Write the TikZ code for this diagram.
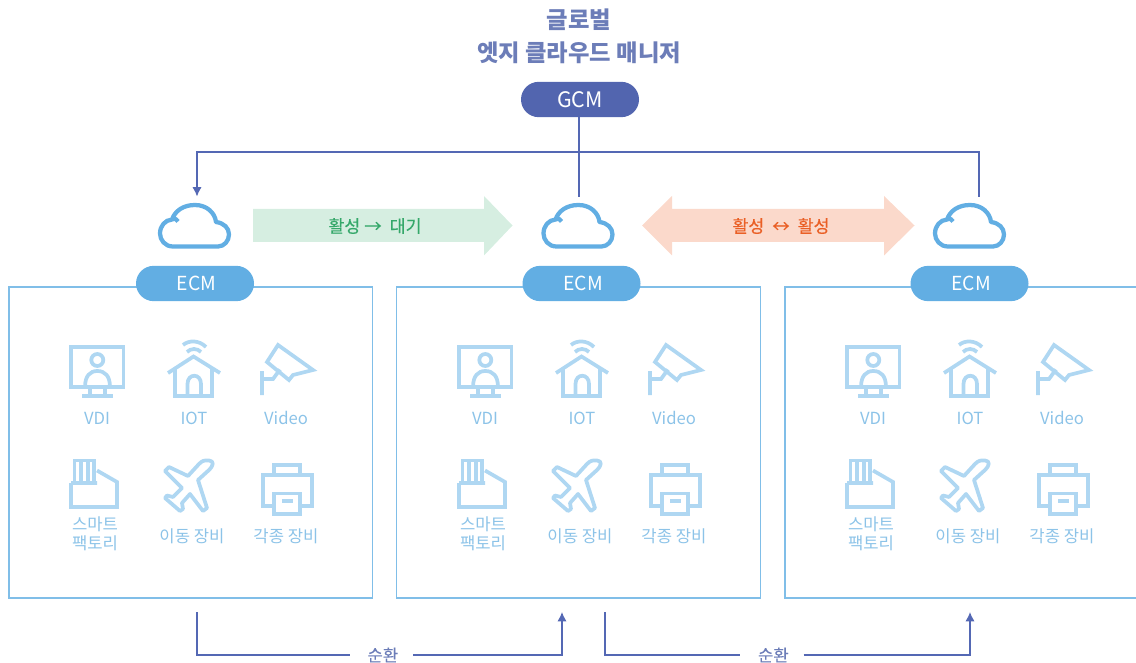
\documentclass[tikz,border=0pt]{standalone}
\usepackage{fontspec}
\setmainfont{Noto Sans CJK KR}
\newfontfamily\medfont[FakeBold=0.35]{Noto Sans CJK KR}
\usetikzlibrary{shapes.misc,arrows.meta}
\definecolor{gcmblue}{HTML}{5265AF}
\definecolor{linkblue}{HTML}{5468B4}
\definecolor{titleblue}{HTML}{6C7DB8}
\definecolor{ecmblue}{HTML}{62AEE3}
\definecolor{panelblue}{HTML}{80BEE8}
\definecolor{iconblue}{HTML}{AFD7F2}
\definecolor{icontext}{HTML}{8CC3E8}
\definecolor{greenfill}{HTML}{D6EEE1}
\definecolor{greentext}{HTML}{35A86A}
\definecolor{orangefill}{HTML}{FBD9CB}
\definecolor{orangetext}{HTML}{EA5F25}
\tikzset{
  pill/.style={rounded rectangle,fill=#1,text=white,minimum width=88.5pt,minimum height=26.5pt,inner sep=0pt},
  panelbox/.style={draw=panelblue,line width=1.25pt,minimum width=272.8pt,minimum height=233.5pt,inner sep=0pt},
  icon/.style={draw=iconblue,line width=2.8pt,line join=miter},
  icontxt/.style={text=icontext,font=\fontsize{12.5}{14}\selectfont,inner sep=0pt,align=center},
  cloudline/.style={draw=ecmblue,line width=3.2pt,line join=round},
  link/.style={draw=linkblue,line width=1.1pt},
  linktip/.style={link,-{Latex[length=7pt,width=7pt]}},
  cycle/.style={text=titleblue,font=\medfont\fontsize{12.5}{14}\selectfont,minimum width=47pt,inner sep=0pt},
  titletxt/.style={text=titleblue,font=\bfseries\fontsize{17.5}{20}\selectfont,inner sep=0pt},
  arrowtxt/.style={font=\medfont\fontsize{13}{14}\selectfont,inner sep=0pt}
}
\newcommand{\cloudshape}[1]{%
  \begin{scope}[shift={(#1,0)}]
  \draw[cloudline] (173,246.5) .. controls (165,246.5) and (160,240) .. (160,233.5)
    .. controls (160,226) and (165,220) .. (172,219.5)
    .. controls (175,218) and (177,219) .. (178,221.5)
    (172,219.5) .. controls (175,211) and (183,205) .. (195,205)
    .. controls (207,205) and (215,213) .. (216,222)
    .. controls (224,223) and (229,228) .. (229,234.5)
    .. controls (229,241) and (224,246.5) .. (218,246.5) -- (173,246.5);
  \end{scope}}
\newcommand{\deviceset}[1]{%
  \begin{scope}[shift={(#1,0)}]
  % VDI
  \draw[icon] (71,347) rectangle (123.5,387);
  \draw[icon] (97.3,360) circle (6);
  \draw[icon] (85,387) .. controls (85,376) and (90,371) .. (97.3,371) .. controls (105,371) and (110,376) .. (110,387);
  \draw[icon] (90,387) -- (90,396) (105,387) -- (105,396) (82,396) -- (113,396);
  % IOT
  \draw[icon] (168,373) -- (193.5,356.5) -- (220,373);
  \draw[icon] (175,369) -- (175,396) -- (212,396) -- (212,369);
  \draw[icon] (187.5,396) -- (187.5,384) .. controls (187.5,373) and (201,373) .. (201,384) -- (201,396);
  \draw[icon] (183,345) .. controls (189,340) and (199,340) .. (206,347);
  \draw[icon] (187,352) .. controls (191,348) and (197,348) .. (201,352);
  % Video
  \draw[icon] (278,345) -- (313,370) -- (293,375) -- (289,380) -- (267,362) -- cycle;
  \draw[icon] (262,371) -- (262,395) (262,379) -- (273,379) -- (280,369.5);
  % Factory
  \draw[icon] (74.5,483) -- (74.5,460.5) -- (94,460.5) -- (94,483) (81,460.5) -- (81,483) (88,460.5) -- (88,483);
  \draw[icon] (71,483) -- (71,507) -- (117,507) -- (117,482) -- (97,470.5) (71,483) -- (97,483);
  % Plane
  \draw[icon,line join=round] (209,460.5) .. controls (204,460) and (202,461) .. (199,464) -- (188,476) -- (169,467) -- (165,471)
    -- (182,488) -- (173,497) -- (167,495.5) -- (165,498) -- (180,511) -- (183,509) -- (182,503)
    -- (190,494) -- (203,511) -- (207,508) -- (198,480) -- (209,470) .. controls (214,465) and (214,461) .. (209,460.5) -- cycle;
  % Printer
  \draw[icon] (274,475) -- (274,465) -- (300,465) -- (300,475);
  \draw[icon] (274,506) -- (263,506) -- (263,475) -- (312,475) -- (312,506) -- (300,506);
  \draw[icon] (274,493.5) rectangle (300,514);
  \draw[icon] (282,501) -- (293,501);
  \end{scope}}
\newcommand{\devicelabels}[2]{%
  \node[icontxt] (#2vdi) at (#1+97,418) {VDI};
  \node[icontxt] (#2iot) at (#1+194,418) {IOT};
  \node[icontxt] (#2video) at (#1+286,418) {Video};
  \node[icontxt] (#2smarta) at (#1+95,524) {스마트};
  \node[icontxt] (#2smartb) at (#1+95,543) {팩토리};
  \node[icontxt] (#2move) at (#1+192,536) {이동 장비};
  \node[icontxt] (#2misc) at (#1+286,536) {각종 장비};}
\begin{document}
\begin{tikzpicture}[x=0.75pt,y=-0.75pt]
\useasboundingbox (0,0) rectangle (1136,663);
\clip (0,0) rectangle (1136,663);
% title
\node[titletxt] (t1) at (579,20) {글로벌};
\node[titletxt] (t2) at (579,52.5) {엣지 클라우드 매니저};
% panels
\node[panelbox] (p1) at (190.7,442.5) {};
\node[panelbox] (p2) at (578.5,442.5) {};
\node[panelbox] (p3) at (966.6,442.5) {};
% pills
\node[pill=gcmblue,font=\fontsize{16}{18}\selectfont] (gcm) at (580,99.5) {GCM};
\node[pill=ecmblue,font=\fontsize{14.5}{16}\selectfont] (e1) at (195,283.5) {\hspace{2.5pt}ECM};
\node[pill=ecmblue,font=\fontsize{14.5}{16}\selectfont] (e2) at (581.5,283.5) {\hspace{2.5pt}ECM};
\node[pill=ecmblue,font=\fontsize{14.5}{16}\selectfont] (e3) at (969.5,283.5) {\hspace{2.5pt}ECM};
% clouds
\cloudshape{0}\cloudshape{383.5}\cloudshape{775}
% icons
\deviceset{0}\deviceset{388}\deviceset{776}
\devicelabels{0}{a}\devicelabels{388}{b}\devicelabels{776}{c}
% band arrows
\fill[greenfill] (253,209) -- (484,209) -- (484,196) -- (512.5,225.5) -- (484,255.5) -- (484,242) -- (253,242) -- cycle;
\node[arrowtxt,text=greentext] (ga) at (375,226) {활성\hspace{3pt}→\hspace{6pt}대기};
\fill[orangefill] (642,225.5) -- (672,196) -- (672,209) -- (884,209) -- (884,196) -- (914.5,225.5) -- (884,255.5) -- (884,242) -- (672,242) -- (672,255.5) -- cycle;
\node[arrowtxt,text=orangetext] (oa) at (781,226) {활성\hspace{6pt}↔\hspace{6pt}활성};
% GCM links
\coordinate (cl1) at (197,196.5);
\coordinate (cl2) at (579,197);
\coordinate (cl3) at (979,197);
\coordinate (bus) at (579,152);
\draw[link] (gcm.south -| cl2) -- (cl2);
\draw[linktip] (bus) -| (cl1);
\draw[link] (bus) -| (cl3);
% cycle links
\coordinate (s1) at (197,612);
\coordinate (d1) at (562,612);
\coordinate (s2) at (605,612);
\coordinate (d2) at (970,612);
\node[cycle] (l1) at (381.5,655) {\hspace{2pt}순환};
\node[cycle] (l2) at (772,655) {\hspace{2pt}순환};
\draw[link] (s1) |- (l1.west);
\draw[linktip] (l1.east) -| (d1);
\draw[link] (s2) |- (l2.west);
\draw[linktip] (l2.east) -| (d2);
\end{tikzpicture}
\end{document}
